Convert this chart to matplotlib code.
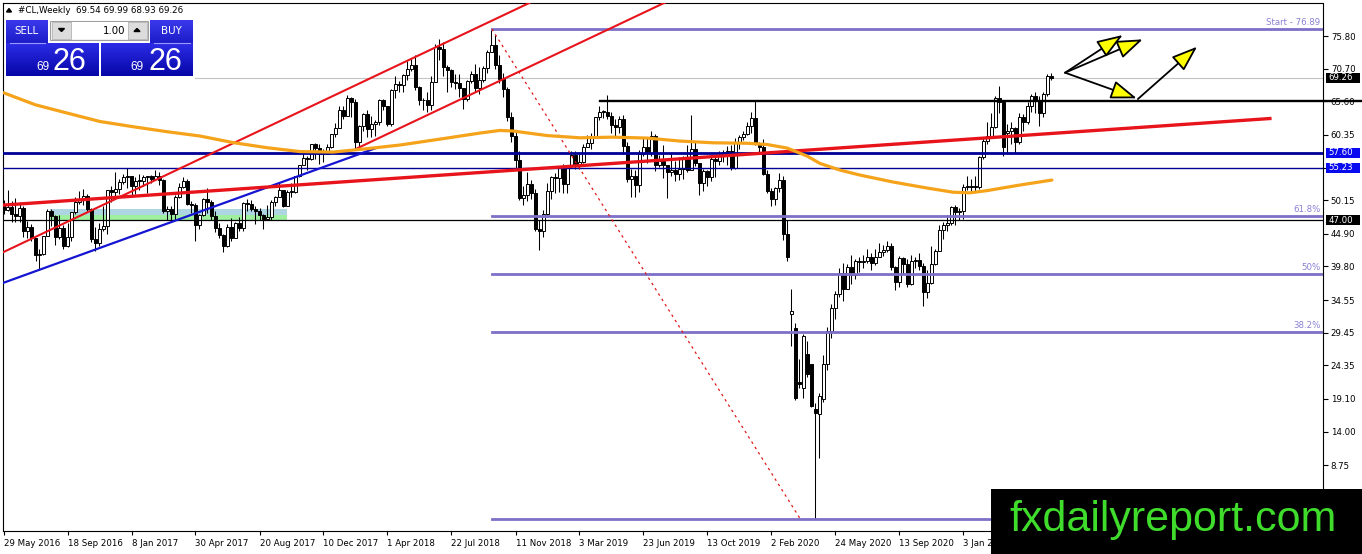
import numpy as np
import matplotlib.pyplot as plt
from matplotlib.patches import Rectangle, Polygon
from matplotlib.transforms import blended_transform_factory

plt.rcParams['font.family'] = ['DejaVu Sans']

# ---- weekly candles, #CL, 29 May 2016 .. 6 Jun 2021 (one bar per week) ----
closes = [
    # 2016
    48.62, 49.07, 47.98, 47.64, 48.99, 45.41, 45.95, 44.19, 41.60, 41.80, 44.49, 48.52, 47.64, 44.44,
    45.88, 43.03, 44.48, 48.24, 49.81, 50.35, 50.85, 48.70, 44.07, 43.41, 45.69, 46.06, 51.68, 51.50,
    51.90, 53.02, 53.72,
    # 2017
    53.99, 52.37, 53.22, 53.17, 53.83, 53.86, 53.40, 53.99, 53.33, 48.49, 48.78, 47.97, 50.60, 52.24,
    53.18, 49.62, 49.33, 46.22, 47.84, 50.33, 49.80, 47.66, 45.83, 44.74, 43.01, 46.04, 44.23, 46.54,
    45.77, 49.71, 49.58, 48.82, 48.51, 47.87, 47.29, 47.48, 49.89, 50.66, 51.67, 49.29, 51.45, 51.47,
    53.90, 55.64, 56.74, 56.55, 58.95, 58.36, 57.36, 57.30, 58.47, 60.42,
    # 2018
    61.44, 64.30, 63.37, 66.14, 65.45, 59.20, 61.68, 63.55, 61.25, 62.04, 62.34, 65.88, 64.94, 62.06,
    67.39, 68.38, 68.10, 69.72, 70.70, 71.28, 67.88, 65.81, 65.74, 65.06, 68.58, 74.15, 73.80, 71.01,
    70.46, 68.69, 68.49, 67.63, 65.91, 68.72, 69.80, 67.75, 68.99, 70.78, 73.25, 74.34, 71.34, 69.12,
    67.59, 63.14, 60.19, 56.46, 50.42, 50.93, 52.61, 51.20, 45.59, 45.33,
    # 2019
    47.96, 51.59, 53.80, 53.69, 55.26, 52.72, 55.59, 57.26, 55.80, 56.07, 58.52, 59.04, 60.14, 63.08,
    63.89, 64.00, 63.30, 61.94, 61.66, 62.76, 58.63, 53.50, 53.99, 52.51, 57.43, 58.47, 57.51, 60.21,
    55.63, 56.20, 55.66, 54.50, 54.87, 54.17, 55.10, 56.52, 54.85, 58.09, 55.91, 52.81, 54.70, 53.78,
    56.66, 56.20, 57.24, 57.72, 57.77, 55.17, 59.20, 60.07, 60.44, 61.72,
    # 2020
    63.05, 59.04, 58.54, 54.19, 51.56, 50.32, 52.05, 53.38, 44.90, 41.30, 32.90, 19.20, 21.40, 28.90,
    23.00, 18.00, 16.90, 19.50, 24.50, 29.70, 33.30, 35.50, 38.80, 36.26, 39.75, 38.49, 40.65, 40.55,
    40.59, 41.29, 40.27, 41.22, 42.01, 42.34, 42.97, 39.77, 37.33, 41.11, 40.25, 37.05, 40.60, 40.88,
    39.85, 35.79, 37.14, 40.13, 42.15, 45.53, 46.26, 46.57, 49.10, 48.23, 48.52,
    # 2021
    52.24, 52.36, 52.27, 52.20, 56.90, 59.40, 60.20, 61.60, 66.10, 65.50, 58.40, 61.00, 61.40, 59.30,
    63.10, 62.40, 64.90, 66.50, 65.60, 63.70, 66.80, 69.50, 69.26,
]
highs = [
    50.21, 51.67, 50.00, 50.50, 49.90, 49.20, 46.90, 46.50, 44.30, 42.50, 44.60, 48.75, 48.80, 47.80,
    47.80, 46.30, 46.60, 48.30, 50.70, 51.60, 51.90, 51.10, 48.90, 45.90, 46.60, 49.20, 51.80, 52.40,
    54.50, 53.40, 54.30,
    55.20, 53.90, 53.80, 54.30, 54.10, 54.00, 54.10, 54.90, 54.60, 53.40, 49.30, 49.20, 50.90, 52.90,
    53.80, 53.40, 50.00, 49.70, 48.00, 50.50, 52.00, 50.20, 48.40, 46.60, 44.90, 46.40, 47.30, 46.80,
    47.50, 49.90, 50.40, 50.20, 49.20, 49.00, 48.00, 49.40, 50.20, 50.80, 52.90, 51.70, 51.70, 52.90,
    54.00, 55.70, 57.90, 57.00, 59.00, 59.10, 58.90, 58.10, 58.90, 60.50,
    62.20, 64.80, 64.90, 66.60, 66.30, 65.90, 61.90, 63.70, 64.20, 63.30, 62.70, 66.00, 66.00, 64.90,
    67.50, 69.60, 68.70, 69.80, 71.90, 72.30, 72.80, 68.00, 66.10, 67.10, 69.50, 74.50, 75.30, 74.80,
    71.30, 70.70, 69.90, 69.90, 67.60, 69.00, 70.40, 71.40, 71.00, 71.10, 73.60, 76.89, 75.90, 72.80,
    70.00, 67.90, 63.90, 60.90, 57.80, 52.40, 54.60, 53.30, 51.90, 47.00,
    48.60, 52.90, 53.90, 54.40, 55.50, 55.80, 55.70, 57.80, 57.90, 57.30, 58.90, 60.40, 60.70, 63.20,
    64.80, 64.30, 66.60, 64.00, 62.90, 63.30, 63.50, 59.30, 55.00, 54.80, 58.00, 59.90, 60.00, 60.90,
    60.50, 57.20, 58.80, 55.70, 57.50, 56.20, 56.90, 57.00, 58.80, 63.40, 59.30, 56.00, 55.00, 54.90,
    56.90, 57.10, 57.90, 58.00, 58.60, 58.70, 59.80, 60.30, 61.00, 62.30,
    64.00, 65.65, 59.30, 59.70, 54.80, 52.00, 52.20, 54.40, 53.90, 47.00, 36.30, 31.00, 25.30, 29.20,
    28.10, 24.60, 18.50, 20.00, 26.00, 30.40, 34.00, 35.90, 39.60, 40.40, 40.20, 41.60, 41.00, 41.20,
    41.60, 42.50, 41.90, 42.60, 43.40, 43.20, 43.80, 43.50, 39.80, 41.50, 41.30, 40.90, 41.60, 41.30,
    41.90, 40.30, 39.30, 43.00, 42.60, 46.30, 46.70, 47.80, 49.30, 49.40, 48.90,
    52.70, 53.90, 53.40, 53.90, 57.10, 59.90, 62.30, 63.80, 66.50, 68.00, 65.80, 62.00, 62.30, 61.60,
    63.80, 63.60, 65.50, 66.80, 67.00, 66.40, 67.10, 69.80, 69.99,
]
lows = [
    48.00, 48.50, 46.70, 46.70, 46.70, 44.40, 44.30, 43.80, 40.60, 39.20, 41.60, 44.50, 46.10, 43.20,
    44.10, 42.60, 42.80, 43.80, 48.00, 49.60, 49.40, 48.40, 43.60, 42.20, 43.00, 45.40, 44.80, 49.80,
    50.70, 51.10, 52.70,
    52.10, 50.70, 51.10, 51.80, 52.30, 51.20, 52.80, 53.40, 52.60, 48.10, 47.10, 47.00, 47.10, 50.50,
    52.10, 49.40, 48.20, 43.80, 45.60, 47.70, 48.20, 47.00, 45.20, 44.20, 42.00, 42.80, 43.80, 44.20,
    45.40, 45.40, 48.50, 48.40, 46.50, 47.00, 45.60, 47.00, 47.10, 49.20, 50.70, 49.10, 49.20, 50.70,
    51.30, 53.80, 55.60, 54.90, 56.50, 56.60, 55.80, 56.10, 57.30, 58.30,
    60.10, 61.40, 62.90, 63.40, 63.20, 58.10, 58.10, 60.90, 60.10, 60.10, 60.20, 61.90, 64.20, 61.80,
    61.80, 66.10, 67.10, 67.00, 69.00, 70.30, 67.40, 65.00, 64.30, 63.90, 64.30, 68.60, 72.00, 69.50,
    67.00, 67.90, 67.60, 66.20, 64.40, 65.70, 68.40, 67.00, 66.80, 68.60, 70.00, 73.60, 70.60, 68.50,
    66.20, 62.60, 59.30, 54.80, 50.20, 49.40, 50.10, 50.30, 45.30, 42.40,
    44.40, 47.60, 50.40, 51.30, 51.50, 51.20, 51.20, 55.40, 55.00, 55.00, 55.90, 58.50, 58.10, 59.90,
    62.70, 63.00, 62.90, 60.60, 60.00, 60.60, 57.30, 53.00, 50.60, 50.70, 51.40, 57.10, 55.90, 57.00,
    54.70, 55.40, 53.60, 50.50, 54.00, 53.10, 53.30, 53.40, 54.60, 57.80, 55.50, 50.90, 51.60, 52.40,
    53.10, 53.70, 55.70, 56.10, 55.70, 54.80, 55.00, 58.10, 59.60, 60.40,
    60.60, 58.70, 57.40, 54.10, 51.30, 49.30, 49.40, 51.50, 44.00, 40.60, 27.40, 19.00, 20.80, 19.20,
    22.50, 17.80, 0.35, 9.80, 18.60, 23.60, 28.60, 31.60, 35.00, 34.40, 36.30, 37.10, 37.90, 39.00,
    39.60, 40.30, 39.30, 40.00, 41.30, 41.50, 42.10, 39.30, 36.10, 36.60, 38.60, 36.60, 36.90, 39.60,
    39.20, 33.60, 34.90, 37.00, 40.00, 42.20, 44.10, 45.40, 46.20, 46.20, 47.00,
    47.20, 51.80, 51.40, 51.50, 51.90, 56.60, 59.00, 59.80, 61.40, 63.80, 57.00, 57.50, 58.90, 57.60,
    58.90, 61.00, 62.00, 64.00, 63.80, 61.70, 63.10, 66.50, 68.93,
]
# bars whose open is not the previous close (weekend gaps / contract rolls)
gap_opens = {0: 49.33, 197: 32.30, 198: 30.20, 199: 21.70, 200: 20.80, 201: 26.10,
             202: 24.50, 203: 17.60, 204: 16.70, 205: 19.10, 251: 60.70, 262: 69.54}

# moving average: (bar index, price)
ma_points = [(0, 66.94), (8.0, 65.05), (16.0, 63.75), (24.1, 62.45), (32.4, 61.63), (40.9, 60.85),
             (49.1, 60.18), (57.4, 59.15), (65.9, 58.35), (74.1, 57.75), (82.4, 57.67), (90.9, 58.20),
             (99.1, 58.77), (110.9, 59.86), (119.1, 60.64), (124.1, 61.05), (127.4, 60.96),
             (135.9, 60.25), (144.1, 59.90), (152.4, 60.00), (160.9, 59.86), (169.1, 59.39),
             (177.4, 59.12), (185.9, 59.05), (190.9, 58.85), (195.9, 58.30), (200.9, 57.05),
             (204.1, 55.90), (209.1, 54.86), (214.1, 54.08), (222.4, 52.99), (230.9, 52.05),
             (237.4, 51.40), (241.6, 51.30), (245.9, 51.65), (254.1, 52.52), (262.1, 53.30)]

# drawn objects: (bar index, price) pairs
trend_red = [(0, 49.39), (316.6, 62.91)]
channel_upper = [(0, 42.05), (140, 83.5)]
channel_lower = [(88.4, 58.25), (170, 82.4)]
trend_blue = [(0, 37.25), (93.6, 58.41)]
fib_start = 122.1
fib_levels = [(76.89, 'Start - 76.89'), (47.65, '61.8%'), (38.62, '50%'), (29.59, '38.2%'), (0.35, '')]
fib_diag = [(122.1, 76.89), (199.1, 0.45)]
zone_blue = (11.6, 70.9, 47.83, 48.77)
zone_green = (11.6, 70.9, 47.05, 47.83)
arrows = [((265.4, 70.07), (279.8, 75.96)),
          ((265.4, 70.07), (284.8, 75.28)),
          ((265.4, 70.07), (283.3, 66.07)),
          ((283.6, 65.96), (298.4, 74.13))]

x_tick_idx = list(range(0, 241, 16))
x_tick_lbl = ['29 May 2016', '18 Sep 2016', '8 Jan 2017', '30 Apr 2017', '20 Aug 2017', '10 Dec 2017',
              '1 Apr 2018', '22 Jul 2018', '11 Nov 2018', '3 Mar 2019', '23 Jun 2019', '13 Oct 2019',
              '2 Feb 2020', '24 May 2020', '13 Sep 2020', '3 Jan 2021']
y_ticks = [75.80, 70.70, 65.60, 60.35, 55.25, 50.15, 44.90, 39.80, 34.55, 29.45, 24.35, 19.10, 14.00, 8.75]
price_boxes = [(69.26, 'black'), (57.60, '#0a0af0'), (55.23, '#0a0af0'), (47.00, 'black')]

# ---- figure ----
W, H = 1362, 554
fig = plt.figure(figsize=(W / 100, H / 100), dpi=100)
PL, PT, PR, PB = 2.7, 3.0, 1322.5, 531.0
ax = fig.add_axes([PL / W, 1 - PB / H, (PR - PL) / W, (PB - PT) / H])
ax.set_xlim(-0.2, 329.75)
ax.set_ylim(-1.53, 80.96)
for s in ax.spines.values():
    s.set_linewidth(0.8)
    s.set_color('black')

c = np.array(closes)
hi = np.array(highs)
lo = np.array(lows)
o = np.concatenate([[c[0]], c[:-1]])
for k, v in gap_opens.items():
    o[k] = v
hi = np.maximum(hi, np.maximum(o, c))
lo = np.minimum(lo, np.minimum(o, c))
idx = np.arange(len(c))
up = c >= o

# zone rectangles behind the candles
for (x0, x1, y0, y1), col in [(zone_blue, '#aed6e2'), (zone_green, '#9ef09e')]:
    ax.add_patch(Rectangle((x0, y0), x1 - x0, y1 - y0, facecolor=col, edgecolor='none', zorder=1))

ax.vlines(idx, lo, hi, color='black', lw=0.75, zorder=3)
body = np.abs(c - o)
body = np.where(body < 0.12, 0.12, body)
ax.bar(idx[up], body[up], bottom=np.minimum(o, c)[up], width=0.55, color='white',
       edgecolor='black', lw=0.7, zorder=4)
ax.bar(idx[~up], body[~up], bottom=np.minimum(o, c)[~up], width=0.55, color='black',
       edgecolor='black', lw=0.7, zorder=4)

# horizontal levels
ax.axhline(57.60, color='#000096', lw=2.0, zorder=5)
ax.axhline(55.23, color='#000096', lw=1.0, zorder=5)
ax.axhline(47.00, color='black', lw=0.9, zorder=5)
ax.plot([47.9, 329.75], [69.26, 69.26], color='#c4c4c4', lw=0.8, zorder=2)
ax.plot([149.1, 339.6], [65.60, 65.60], color='black', lw=1.7, zorder=6, clip_on=False)

# fibonacci
fib_col = '#7d70c8'
for lvl, txt in fib_levels:
    ax.plot([fib_start, 329.75], [lvl, lvl], color=fib_col, lw=2.0, zorder=5)
    if txt:
        ax.text(329.2, lvl + 0.35, txt, color='#8a80d4', fontsize=6.2, ha='right', va='bottom', zorder=6)
ax.plot(*zip(*fib_diag), color='#e01818', lw=0.9, ls=(0, (2, 3)), zorder=5)

# trend lines and channel
ax.plot(*zip(*channel_upper), color='#e8141c', lw=1.5, zorder=5)
ax.plot(*zip(*channel_lower), color='#e8141c', lw=1.5, zorder=5)
ax.plot(*zip(*trend_blue), color='#1414d2', lw=1.6, zorder=5)
ax.plot(*zip(*trend_red), color='#e8141c', lw=2.4, zorder=5)

# moving average
ax.plot(*zip(*ma_points), color='#f5a31a', lw=2.3, zorder=5, solid_capstyle='round',
        solid_joinstyle='round')

# arrows
for start, end in arrows:
    ax.annotate('', xy=end, xytext=start, annotation_clip=False, zorder=7,
                arrowprops=dict(arrowstyle='-|>,head_length=1.0,head_width=0.36', fc='#ffff00',
                                ec='black', lw=1.3, mutation_scale=16, shrinkA=0, shrinkB=0))

# axes ticks
ax.yaxis.tick_right()
ax.set_yticks(y_ticks)
ax.set_yticklabels(['%.2f' % v for v in y_ticks])
ax.tick_params(axis='y', direction='out', length=3.5, width=0.8, pad=2.5, labelsize=6.2)
ax.set_xticks(x_tick_idx)
ax.set_xticklabels(x_tick_lbl)
ax.tick_params(axis='x', direction='out', length=3, width=0.8, pad=2.5, labelsize=6.2)
for t in ax.get_xticklabels():
    t.set_ha('left')

# price boxes on the scale
tr = blended_transform_factory(ax.transAxes, ax.transData)
span = PR - PL
for p, col in price_boxes:
    hgt = 10 / 6.4
    ax.add_patch(Rectangle(((1326 - PL) / span, p - hgt / 2), 34 / span, hgt, transform=tr,
                           facecolor=col, edgecolor='none', clip_on=False, zorder=8))
    ax.text((1328.5 - PL) / span, p, '%.2f' % p, transform=tr, color='white', fontsize=6.2,
            va='center', ha='left', zorder=9, clip_on=False)

# ---- overlay: trade panel, header and watermark (pixel space) ----
ov = fig.add_axes([0, 0, 1, 1], zorder=10)
ov.set_autoscale_on(False)
ov.set_xlim(0, W)
ov.set_ylim(H, 0)
ov.axis('off')


def grad_box(x0, y0, x1, y1, top, bottom):
    t = np.array(plt.matplotlib.colors.to_rgb(top))
    b = np.array(plt.matplotlib.colors.to_rgb(bottom))
    g = np.linspace(0, 1, 40)[:, None, None]
    img = t * (1 - g) + b * g
    ov.imshow(img, extent=(x0, x1, y1, y0), aspect='auto', interpolation='bilinear', zorder=2)


grad_box(6, 20, 48, 43, '#3a3aec', '#1c1cc8')
grad_box(150, 20, 193, 43, '#3a3aec', '#1c1cc8')
grad_box(6, 43, 98.5, 76, '#2c2ce6', '#0606a8')
grad_box(101, 43, 193, 76, '#2c2ce6', '#0606a8')
ov.plot([10, 45], [42.5, 42.5], color='#9a9aff', lw=0.8, zorder=3)
ov.plot([154, 190], [42.5, 42.5], color='#9a9aff', lw=0.8, zorder=3)
ov.add_patch(Rectangle((50, 20.5), 98, 19.5, facecolor='#f4f4f4', edgecolor='#a0a0a0', lw=0.8, zorder=2))
ov.add_patch(Rectangle((52, 22), 19, 16.5, facecolor='#dcdcdc', edgecolor='#b4b4b4', lw=0.6, zorder=3))
ov.add_patch(Rectangle((128, 22), 18.5, 16.5, facecolor='#dcdcdc', edgecolor='#b4b4b4', lw=0.6, zorder=3))
ov.add_patch(Rectangle((72, 22), 56, 16.5, facecolor='white', edgecolor='none', zorder=3))
ov.add_patch(Polygon([(58.5, 28.5), (64.5, 28.5), (61.5, 31.5)], closed=True, color='black', zorder=4))
ov.add_patch(Polygon([(134, 31.5), (140, 31.5), (137, 28.5)], closed=True, color='black', zorder=4))
ov.text(26.5, 31, 'SELL', color='white', fontsize=7.4, ha='center', va='center', zorder=4)
ov.text(171, 31, 'BUY', color='white', fontsize=7.4, ha='center', va='center', zorder=4)
ov.text(125, 30.5, '1.00', color='black', fontsize=7.4, ha='right', va='center', zorder=4)
for x_small, x_big in [(36, 53), (130, 148)]:
    ov.text(x_small, 70, '69', color='white', fontsize=8.5, ha='left', va='baseline',
            family='Liberation Sans', zorder=4)
    ov.text(x_big, 70, '26', color='white', fontsize=22, ha='left', va='baseline',
            family='Liberation Sans', zorder=4)

ov.add_patch(Polygon([(6.5, 12), (11.5, 12), (9, 8.5)], closed=True, color='black', zorder=4))
ov.text(18, 10.5, '#CL,Weekly  69.54 69.99 68.93 69.26', color='black', fontsize=6.3,
        ha='left', va='center', zorder=4)

ov.add_patch(Rectangle((991, 489.3), W - 991, H - 489.3, facecolor='black', edgecolor='none', zorder=5))
ov.text(1009, 531.5, 'fxdailyreport.com', color='#3fdc2c', fontsize=31, family='Liberation Sans',
        ha='left', va='baseline', zorder=6)

fig.savefig('out.png', dpi=100)
